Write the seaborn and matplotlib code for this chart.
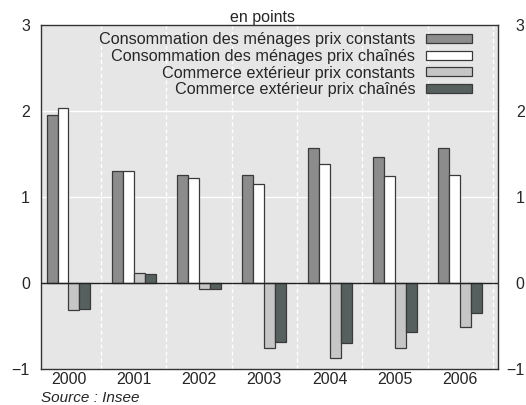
import pandas as pd
import matplotlib.pyplot as plt
import matplotlib.transforms as mtransforms
import seaborn as sns

# Values
years = ['2000', '2001', '2002', '2003', '2004', '2005', '2006']
conso_constants = [1.96, 1.30, 1.26, 1.26, 1.57, 1.46, 1.57]
conso_chaines = [2.03, 1.30, 1.22, 1.15, 1.38, 1.24, 1.26]
commerce_constants = [-0.31, 0.12, -0.07, -0.76, -0.87, -0.76, -0.51]
commerce_chaines = [-0.30, 0.11, -0.07, -0.69, -0.70, -0.57, -0.35]

series = ['Consommation des ménages prix constants',
          'Consommation des ménages prix chaînés',
          'Commerce extérieur prix constants',
          'Commerce extérieur prix chaînés']
colors = ['#8c8c8c', '#ffffff', '#c6c6c6', '#56605e']

# Long-form table for seaborn
df = pd.DataFrame({
    'annee': years * 4,
    'valeur': conso_constants + conso_chaines + commerce_constants + commerce_chaines,
    'serie': [s for s in series for _ in years],
})

sns.set_style('white')
plt.rcParams['font.family'] = ['Liberation Sans', 'DejaVu Sans']

fig, ax = plt.subplots(figsize=(5.26, 4.05), dpi=100)
fig.subplots_adjust(left=0.078, right=0.947, top=0.938, bottom=0.089)
ax.set_facecolor('#e6e6e7')

sns.barplot(data=df, x='annee', y='valeur', hue='serie', hue_order=series,
            palette=colors, width=0.67, edgecolor='#3a3a3a', linewidth=0.9,
            saturation=1, ax=ax, zorder=3)

# Grid: white horizontal lines, dashed white lines between years
for yv in [1, 2]:
    ax.axhline(yv, color='white', lw=1, zorder=1)
for xv in [0.5, 1.5, 2.5, 3.5, 4.5, 5.5, 6.5]:
    ax.axvline(xv, color='white', lw=1, ls=(0, (3, 2)), zorder=1)
ax.axhline(0, color='#222222', lw=1, zorder=4)

ax.set_xlim(-0.42, 6.58)
ax.set_ylim(-1, 3)
ax.set_yticks([-1, 0, 1, 2, 3])
ax.tick_params(axis='y', length=0, pad=8, labelsize=11.5, labelright=True)
ax.tick_params(axis='x', length=0, pad=2.5, labelsize=11.5)
ax.set_xlabel('')
ax.set_ylabel('')

for s in ax.spines.values():
    s.set_color('#333333')
    s.set_linewidth(1)
    s.set_visible(True)

leg = ax.legend(loc='upper right', frameon=False, markerfirst=False, fontsize=11.7,
                handlelength=2.8, handleheight=0.45, handletextpad=0.65,
                labelspacing=0.1, borderaxespad=0, bbox_to_anchor=(0.956, 0.998))
for t in leg.get_texts():
    t.set_ha('right')
leg._legend_box.align = 'right'

fig.text(0.5, 0.957, 'en points', ha='center', va='center', fontsize=11.5)
fig.text(0.078, 0.018, 'Source : Insee', ha='left', va='center', fontsize=11, style='italic')

# right-hand labels are right-aligned near the picture edge
fig.canvas.draw()
off = mtransforms.ScaledTranslation(11 / 72, 0, fig.dpi_scale_trans)
for t in ax.yaxis.get_major_ticks():
    t.label2.set_ha('right')
    t.label2.set_transform(t.label2.get_transform() + off)

fig.savefig('out.png', dpi=100)
